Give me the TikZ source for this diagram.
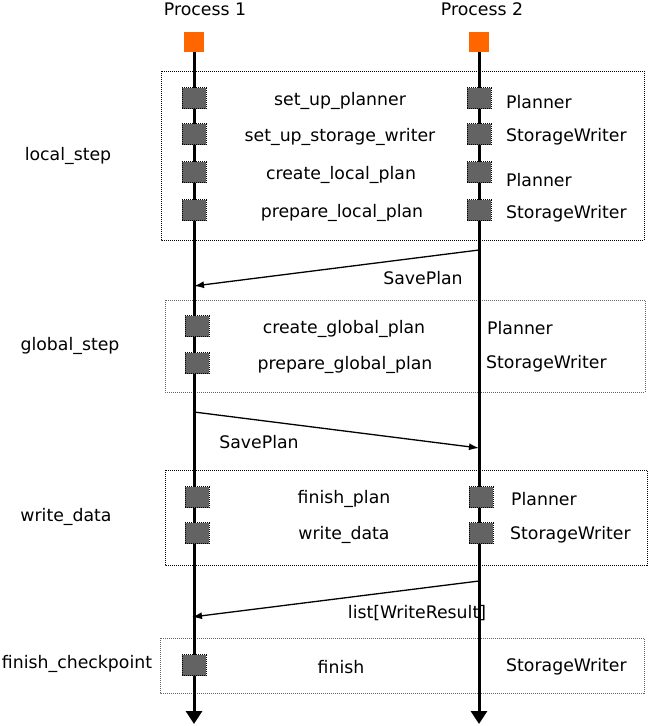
\documentclass[tikz,border=0pt]{standalone}
\usepackage{fontspec}
\setmainfont{DejaVu Sans}
\usetikzlibrary{arrows.meta, positioning}
\definecolor{headorange}{HTML}{FF6600}
\definecolor{callgray}{HTML}{636363}

\begin{document}
\begin{tikzpicture}[x=1pt, y=-1pt,
every node/.style={font=\fontsize{17.3}{20}\selectfont, inner sep=1pt},
head/.style={fill=headorange, minimum size=20pt, inner sep=0pt},
call/.style={fill=callgray, draw=black, dash pattern=on 1pt off 1pt, line width=1pt, minimum width=24pt, minimum height=21pt, inner sep=0pt},
lifeline/.style={line width=3pt, -{Triangle[width=16pt,length=13pt]}},
msg/.style={line width=1.3pt, -{Latex[length=10pt,width=7pt]}}]
\tikzstyle{phase}=[dash pattern=on 1pt off 1pt, line width=1pt]
\tikzstyle{lightphase}=[dash pattern=on 1pt off 1pt, line width=0.9pt, draw=black!60]

\useasboundingbox (0,0) rectangle (649,726);

% phase boxes
\draw[phase] (161,71) rectangle (644,240);
\draw[lightphase] (165,300) rectangle (645,392);
\draw[phase] (165,470) rectangle (647,565);
\draw[lightphase] (160,638) rectangle (644,693);

% processes
\node at (205,9) (P1) {Process 1};
\node at (482,9) (P2) {Process 2};
\node[head] at (194,42) (H1) {};
\node[head] at (479,42) (H2) {};
\coordinate (E1) at (194,724);
\coordinate (E2) at (479,724);
\draw[lifeline] (H1.south) -- (E1);
\draw[lifeline] (H2.south) -- (E2);

% phase names
\node at (68,156) (local) {local\_step};
\node at (70,346) (global) {global\_step};
\node at (66,517) (write) {write\_data};
\node at (77,664) (finishcp) {finish\_checkpoint};

% local_step
\node[call] at (194,98) (A1) {};
\node[call] at (194,134) (A2) {};
\node[call] at (194,172) (A3) {};
\node[call] at (194,210) (A4) {};
\node[call] at (479,98) (B1) {};
\node[call] at (479,134) (B2) {};
\node[call] at (479,172) (B3) {};
\node[call] at (479,210) (B4) {};
\node at (340,101) {set\_up\_planner};
\node at (340,137) {set\_up\_storage\_writer};
\node at (341,175) {create\_local\_plan};
\node at (342,213) {prepare\_local\_plan};
\node[anchor=west] at (505,102) {Planner};
\node[anchor=west] at (505,137) {StorageWriter};
\node[anchor=west] at (505,180) {Planner};
\node[anchor=west] at (505,214) {StorageWriter};

% local plans to coordinator
\coordinate (S1) at (479,250);
\coordinate (T1) at (194,286);
\draw[msg] (S1) -- (T1);
\node at (423,278) (m1) {SavePlan};

% global_step
\node[call] at (197,326) (C1) {};
\node[call] at (197,363) (C2) {};
\node at (344,329) {create\_global\_plan};
\node at (345,365) {prepare\_global\_plan};
\node[anchor=west] at (486,328) {Planner};
\node[anchor=west] at (485,364) {StorageWriter};

% global plan back
\coordinate (S2) at (194,412);
\coordinate (T2) at (479,448);
\draw[msg] (S2) -- (T2);
\node at (259,442) (m2) {SavePlan};

% write_data
\node[call] at (197,497) (D1) {};
\node[call] at (197,533) (D2) {};
\node[call] at (481,497) (F1) {};
\node[call] at (481,533) (F2) {};
\node at (344,499) {finish\_plan};
\node at (344,535) {write\_data};
\node[anchor=west] at (510,499) {Planner};
\node[anchor=west] at (509,535) {StorageWriter};

% results to coordinator
\coordinate (S3) at (479,581);
\coordinate (T3) at (192,617);
\draw[msg] (S3) -- (T3);
\node at (417,613) (m3) {list[WriteResult]};

% finish_checkpoint
\node[call] at (194,665) (G1) {};
\node at (341,667) {finish};
\node[anchor=west] at (505,667) {StorageWriter};

\end{tikzpicture}
\end{document}
